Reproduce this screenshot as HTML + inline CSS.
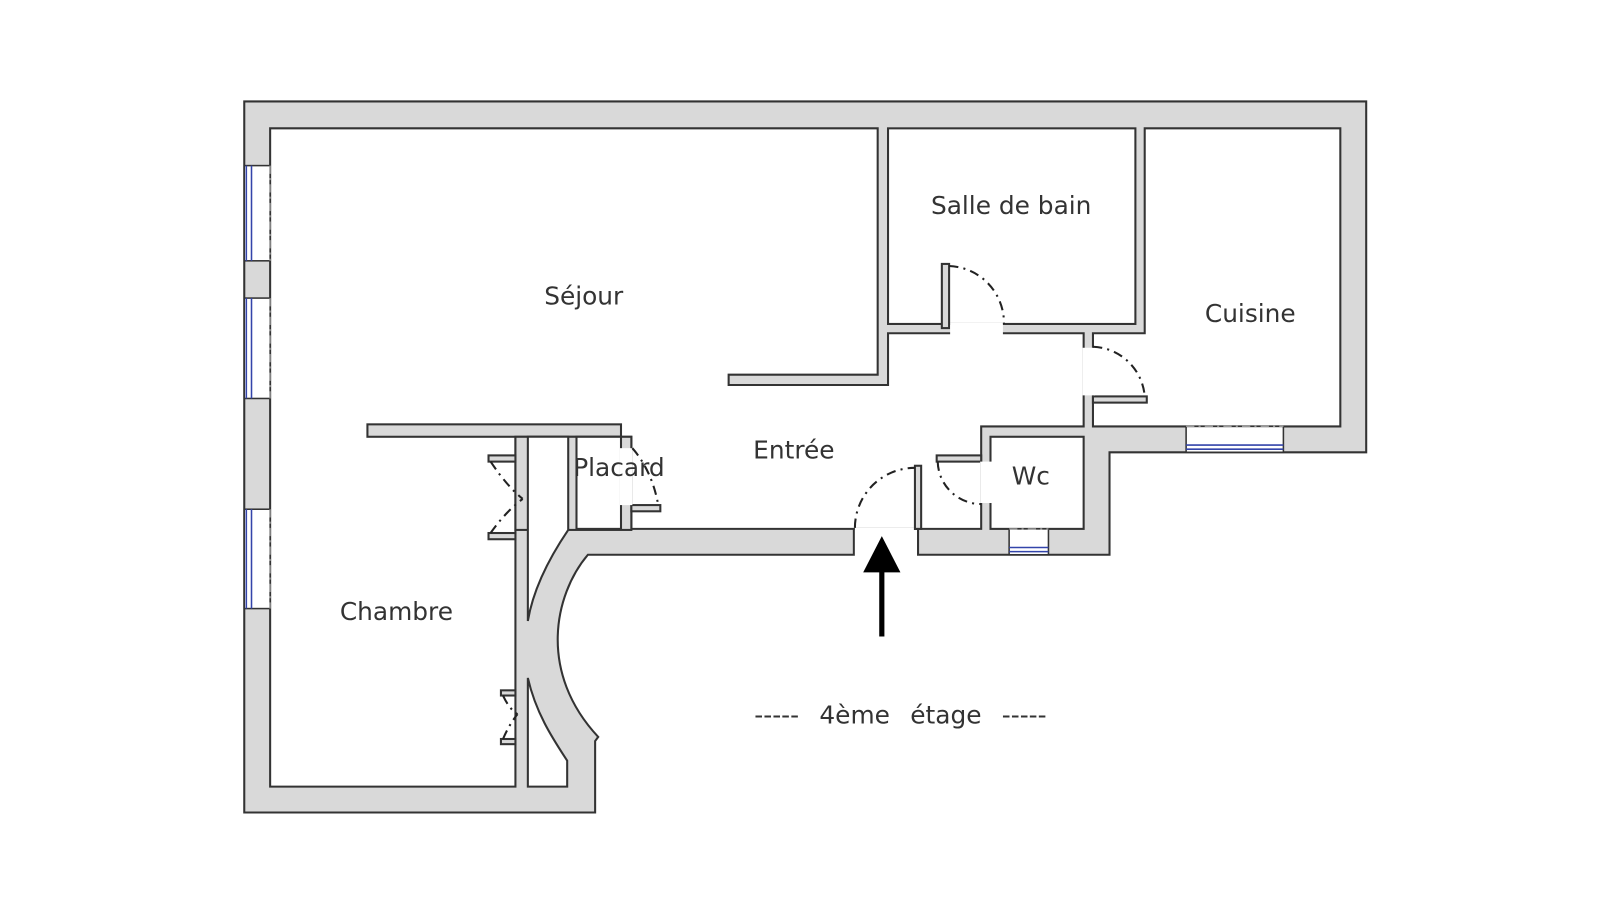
<!DOCTYPE html>
<html><head><meta charset="utf-8"><style>
html,body{margin:0;padding:0;background:#fff;}
svg{display:block;}
text{font-family:"DejaVu Sans","Liberation Sans",sans-serif;font-size:24px;fill:#333;}
</style></head><body>
<svg width="1622" height="906" viewBox="0 0 1622 906" xmlns="http://www.w3.org/2000/svg">
<g transform="scale(1.035)">
<g stroke="#333" stroke-width="2" stroke-linejoin="miter">
<path d="M236,98 L1320,98 L1320,437 L1072,437 L1072,536 L887,536 L887,511 L825,511 L825,536 L568,536 C535,575 520,650 578,712 L575,716 L575,785 L236,785 Z" fill="#d9d9d9"/>
<path d="M261,124 L848,124 L848,362 L704,362 L704,372 L858,372 L858,322 L1047,322 L1047,412 L948,412 L948,511 L610,511 L610,422 L498,422 L498,760 L261,760 Z" fill="#fff"/>
<rect x="858" y="124" width="239" height="189" fill="#fff"/>
<path d="M1106,124 L1295,124 L1295,412 L1056,412 L1056,322 L1106,322 Z" fill="#fff"/>
<rect x="957" y="422" width="90" height="89" fill="#fff"/>
<rect x="355" y="410" width="245" height="12" fill="#d9d9d9"/>
<rect x="498" y="422" width="112" height="90" fill="#d9d9d9"/>
<rect x="557" y="422" width="43" height="89" fill="#fff"/>
<path d="M510,422 L549,422 L549,512 C530,540 515,570 510,600 Z" fill="#fff"/>
<path d="M510,655 C518,690 535,715 548,735 L548,760 L510,760 Z" fill="#fff"/>
<rect x="910" y="255" width="7" height="62" fill="#d9d9d9"/>
<rect x="884" y="450" width="6" height="61" fill="#d9d9d9"/>
<rect x="1056" y="383" width="52" height="6" fill="#d9d9d9"/>
<rect x="905" y="440" width="43" height="6" fill="#d9d9d9"/>
<rect x="472" y="440" width="26" height="6" fill="#d9d9d9"/>
<rect x="472" y="515" width="26" height="6" fill="#d9d9d9"/>
<rect x="610" y="488" width="28" height="6" fill="#d9d9d9"/>
<rect x="484" y="667" width="14" height="5" fill="#d9d9d9"/>
<rect x="484" y="714" width="14" height="5" fill="#d9d9d9"/>
</g>
<g fill="#fff">
<rect x="918" y="312" width="51" height="12"/>
<rect x="1046" y="336" width="12" height="46"/>
<rect x="826" y="510" width="57" height="28"/>
<rect x="947" y="446" width="12" height="40"/>
<rect x="599" y="433" width="12" height="55"/>
</g>
<g fill="#fff" stroke="#333" stroke-width="1.5">
<rect x="236" y="160" width="25" height="92"/>
<rect x="236" y="288" width="25" height="97"/>
<rect x="236" y="492" width="25" height="96"/>
<rect x="1146" y="412" width="94" height="25"/>
<rect x="975" y="511" width="38" height="25"/>
</g>
<g stroke="#fff" stroke-width="3">
<line x1="250" y1="161" x2="250" y2="251"/><line x1="250" y1="289" x2="250" y2="384"/><line x1="250" y1="493" x2="250" y2="587"/>
<line x1="1147" y1="424" x2="1239" y2="424"/><line x1="976" y1="523" x2="1012" y2="523"/>
</g>
<g stroke="#3344aa" stroke-width="1.5">
<line x1="238" y1="160" x2="238" y2="252"/><line x1="243" y1="160" x2="243" y2="252"/>
<line x1="238" y1="288" x2="238" y2="385"/><line x1="243" y1="288" x2="243" y2="385"/>
<line x1="238" y1="492" x2="238" y2="588"/><line x1="243" y1="492" x2="243" y2="588"/>
<line x1="1146" y1="430" x2="1240" y2="430"/><line x1="1146" y1="434" x2="1240" y2="434"/>
<line x1="975" y1="529" x2="1013" y2="529"/><line x1="975" y1="533" x2="1013" y2="533"/>
</g>
<g stroke="#999" stroke-width="1.2" stroke-dasharray="8,4,2,4" fill="none">
<line x1="261" y1="160" x2="261" y2="252"/><line x1="261" y1="288" x2="261" y2="385"/><line x1="261" y1="492" x2="261" y2="588"/>
<line x1="1146" y1="412" x2="1240" y2="412"/><line x1="975" y1="511" x2="1013" y2="511"/>
</g>
<g stroke="#222" stroke-width="2" stroke-dasharray="9,5,2,5" fill="none">
<path d="M917,257 A55,55 0 0 1 970,313"/>
<path d="M1056,335 A52,52 0 0 1 1106,383"/>
<path d="M826,510 A58,58 0 0 1 884,452"/>
<path d="M906,446 A42,42 0 0 0 948,487"/>
<path d="M474,446 Q490,470 505,482 M474,515 Q488,495 505,482"/>
<path d="M611,433 Q630,455 636,488"/>
<path d="M486,672 Q492,685 500,690 M486,714 Q492,700 500,690"/>
</g>
<line x1="852" y1="615" x2="852" y2="548" stroke="#000" stroke-width="5"/>
<polygon points="834,553 870,553 852,518" fill="#000"/>
<text x="564" y="294" text-anchor="middle">Séjour</text>
<text x="977" y="207" text-anchor="middle">Salle de bain</text>
<text x="1208" y="311" text-anchor="middle">Cuisine</text>
<text x="767" y="443" text-anchor="middle">Entrée</text>
<text x="996" y="468" text-anchor="middle">Wc</text>
<text x="598" y="460" text-anchor="middle">Placard</text>
<text x="383" y="599" text-anchor="middle">Chambre</text>
<text x="870" y="699" text-anchor="middle" word-spacing="12">----- 4ème étage -----</text>
</g>
</svg>
</body></html>
